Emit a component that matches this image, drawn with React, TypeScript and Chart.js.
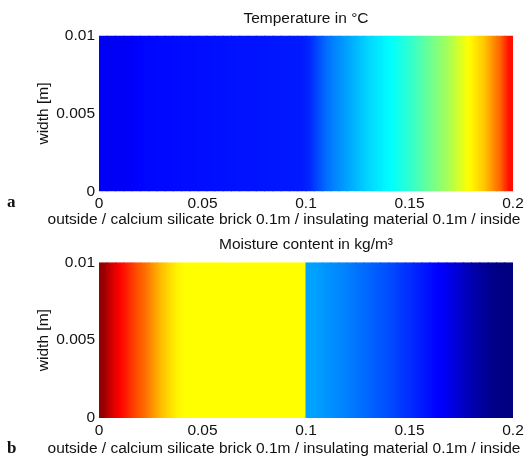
import React, { useEffect, useRef } from "react";
import { Chart, registerables } from "chart.js";

Chart.register(...registerables);

// Cell centres along the wall thickness [m]
const X_CENTERS = [
  0.002, 0.006, 0.010, 0.014, 0.018, 0.022, 0.026, 0.030, 0.034, 0.038,
  0.042, 0.046, 0.050, 0.054, 0.058, 0.062, 0.066, 0.070, 0.074, 0.078,
  0.082, 0.086, 0.090, 0.094, 0.098, 0.102, 0.106, 0.110, 0.114, 0.118,
  0.122, 0.126, 0.130, 0.134, 0.138, 0.142, 0.146, 0.150, 0.154, 0.158,
  0.162, 0.166, 0.170, 0.174, 0.178, 0.182, 0.186, 0.190, 0.194, 0.198,
];

// Colour-map level (0..1, jet) read per cell
const TEMPERATURE_LEVELS = [
  0.115, 0.115, 0.115, 0.118, 0.125, 0.13, 0.132, 0.133, 0.134, 0.135,
  0.136, 0.137, 0.138, 0.139, 0.14, 0.141, 0.142, 0.143, 0.143, 0.144,
  0.146, 0.147, 0.148, 0.149, 0.15, 0.165, 0.2, 0.235, 0.255, 0.275,
  0.295, 0.315, 0.335, 0.35, 0.365, 0.38, 0.4, 0.42, 0.445, 0.47,
  0.495, 0.52, 0.55, 0.585, 0.62, 0.65, 0.68, 0.73, 0.78, 0.86,
];

const MOISTURE_LEVELS = [
  0.98, 0.92, 0.875, 0.84, 0.8, 0.77, 0.73, 0.69, 0.66, 0.635,
  0.625, 0.625, 0.625, 0.625, 0.625, 0.625, 0.625, 0.625, 0.625, 0.625,
  0.625, 0.625, 0.625, 0.625, 0.625, 0.285, 0.28, 0.27, 0.262, 0.255,
  0.245, 0.235, 0.225, 0.215, 0.205, 0.195, 0.18, 0.17, 0.155, 0.145,
  0.13, 0.12, 0.1, 0.08, 0.055, 0.04, 0.025, 0.012, 0.005, 0.0,
];

const WIDTH_SPAN: [number, number] = [0, 0.01];
const X_TICKS = [0, 0.05, 0.1, 0.15, 0.2];
const Y_TICKS = [0, 0.005, 0.01];

const X_LABEL =
  "outside / calcium silicate brick 0.1m / insulating material 0.1m / inside";
const Y_LABEL = "width [m]";
const TITLE_A = "Temperature in °C";
const TITLE_B = "Moisture content in kg/m³";

const FONT = "'Liberation Sans', Arial, Helvetica, sans-serif";
const TEXT = "#111111";
const FS = 15.5;

function jet(v: number): string {
  const c = (t: number) => Math.round(255 * Math.min(1, Math.max(0, t)));
  const r = c(1.5 - Math.abs(4 * v - 3));
  const g = c(1.5 - Math.abs(4 * v - 2));
  const b = c(1.5 - Math.abs(4 * v - 1));
  return `rgb(${r},${g},${b})`;
}

type Geo = {
  top: number;
  h: number;
  titleTop: number;
  titleBottom: number;
  tickPad: number;
  xAxisH: number;
  subBottom: number;
};

// shaded fill of one cell (smooth like interpolated shading, sharp at material jumps)
function cellFill(ctx: any, levels: number[]): any {
  const i = ctx.dataIndex;
  const chart = ctx.chart;
  const xs = chart && chart.scales && chart.scales.x;
  if (i === undefined || !xs || !chart.ctx) return jet(levels[0]);
  const v = levels[i];
  const prev = i > 0 ? levels[i - 1] : v;
  const next = i < levels.length - 1 ? levels[i + 1] : v;
  const halfL = i > 0 ? (X_CENTERS[i] - X_CENTERS[i - 1]) / 2 : (X_CENTERS[1] - X_CENTERS[0]) / 2;
  const halfR = i < X_CENTERS.length - 1 ? (X_CENTERS[i + 1] - X_CENTERS[i]) / 2 : halfL;
  const x0 = xs.getPixelForValue(X_CENTERS[i] - halfL);
  const x1 = xs.getPixelForValue(X_CENTERS[i] + halfR);
  if (!isFinite(x0) || !isFinite(x1) || x1 <= x0) return jet(v);
  const lv = Math.abs(prev - v) > 0.2 ? v : (prev + v) / 2;
  const rv = Math.abs(next - v) > 0.2 ? v : (next + v) / 2;
  const g = chart.ctx.createLinearGradient(x0, 0, x1, 0);
  g.addColorStop(0, jet(lv));
  g.addColorStop(0.25, jet((lv + v) / 2));
  g.addColorStop(0.5, jet(v));
  g.addColorStop(0.75, jet((rv + v) / 2));
  g.addColorStop(1, jet(rv));
  return g;
}

function Panel({ title, levels, geo }: { title: string; levels: number[]; geo: Geo }) {
  const ref = useRef<HTMLCanvasElement>(null);
  useEffect(() => {
    const font = { family: FONT, size: FS, weight: "normal" as const };
    const chart = new Chart(ref.current as HTMLCanvasElement, {
      type: "bar",
      data: {
        datasets: [
          {
            data: X_CENTERS.map((x) => ({ x, y: WIDTH_SPAN })) as any,
            backgroundColor: (ctx: any) => cellFill(ctx, levels),
            borderWidth: 0,
            barPercentage: 1.12,
            categoryPercentage: 1,
            clip: 0 as any,
          },
        ],
      },
      options: {
        responsive: false,
        animation: false,
        events: [],
        layout: { padding: { top: 2, left: 43, right: 0, bottom: 0 } },
        plugins: {
          legend: { display: false },
          tooltip: { enabled: false },
          title: {
            display: true,
            text: title,
            fullSize: false,
            color: TEXT,
            font,
            padding: { top: geo.titleTop, bottom: geo.titleBottom },
          },
          subtitle: {
            display: true,
            position: "bottom",
            text: X_LABEL,
            fullSize: true,
            color: TEXT,
            font,
            padding: { top: 2, bottom: geo.subBottom },
          },
        },
        scales: {
          x: {
            type: "linear",
            min: 0,
            max: 0.2,
            offset: false,
            grid: { display: false, drawTicks: false },
            border: { display: false },
            ticks: {
              color: TEXT,
              font,
              padding: geo.tickPad,
              autoSkip: false,
              maxRotation: 0,
              callback: (v: any) => String(v),
            },
            afterBuildTicks: (s: any) => {
              s.ticks = X_TICKS.map((value) => ({ value }));
            },
            afterFit: (s: any) => {
              s.height = geo.xAxisH;
              s.paddingLeft = 0;
              s.paddingRight = 12;
            },
          },
          y: {
            type: "linear",
            min: 0,
            max: 0.01,
            grid: { display: false, drawTicks: false },
            border: { display: false },
            ticks: {
              color: TEXT,
              font,
              padding: 4,
              autoSkip: false,
              callback: (v: any) => String(v),
            },
            afterBuildTicks: (s: any) => {
              s.ticks = Y_TICKS.map((value) => ({ value }));
            },
            title: {
              display: true,
              text: Y_LABEL,
              color: TEXT,
              font,
              padding: { top: -9, bottom: 0 },
            },
            afterFit: (s: any) => {
              s.width = 56;
              s.paddingTop = 0;
              s.paddingBottom = 0;
            },
          },
        },
      } as any,
    });
    return () => chart.destroy();
  }, []);
  return (
    <canvas
      ref={ref}
      width={525}
      height={geo.h}
      style={{ position: "absolute", left: 0, top: geo.top, display: "block" }}
    />
  );
}

const GEO_A: Geo = { top: 0, h: 230, titleTop: 7, titleBottom: 8, tickPad: 2.5, xAxisH: 17.2, subBottom: 0.7 };
const GEO_B: Geo = { top: 230, h: 230, titleTop: 3.7, titleBottom: 8, tickPad: 3.4, xAxisH: 19, subBottom: 2.4 };

const letterStyle: React.CSSProperties = {
  position: "absolute",
  left: 7,
  fontFamily: "'Liberation Serif', 'Times New Roman', serif",
  fontWeight: "bold",
  fontSize: 17,
  lineHeight: "20px",
  color: "#111",
};

export default function App() {
  return (
    <div
      style={{
        position: "absolute",
        left: 0,
        top: 0,
        width: 525,
        height: 457,
        overflow: "hidden",
        background: "#fff",
      }}
    >
      <Panel title={TITLE_A} levels={TEMPERATURE_LEVELS} geo={GEO_A} />
      <Panel title={TITLE_B} levels={MOISTURE_LEVELS} geo={GEO_B} />
      <div style={{ ...letterStyle, top: 192 }}>a</div>
      <div style={{ ...letterStyle, top: 437.5 }}>b</div>
    </div>
  );
}
